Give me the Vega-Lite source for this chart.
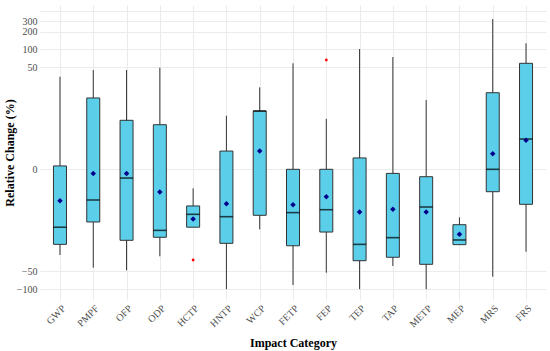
{
  "$schema": "https://vega.github.io/schema/vega-lite/v6.json",
  "width": 506,
  "height": 295,
  "autosize": {"type": "none"},
  "padding": {"left": 40, "top": 5, "right": 4, "bottom": 51},
  "background": "white",
  "config": {
    "view": {"stroke": null},
    "font": "Liberation Serif",
    "axis": {
      "labelFont": "Liberation Serif",
      "titleFont": "Liberation Serif",
      "labelColor": "#4D4D4D",
      "labelFontSize": 10,
      "titleFontSize": 12,
      "titleFontWeight": "bold",
      "titleColor": "#000000",
      "domain": false,
      "ticks": false,
      "gridColor": "#EBEBEB",
      "gridWidth": 1
    }
  },
  "datasets": {
    "boxes": [
      {"cat": "GWP", "lower": -26.1, "q1": -17.0, "median": -8.3, "q3": 0.14, "upper": 34.4, "mean": -2.35},
      {"cat": "PMPF", "lower": -43.2, "q1": -6.6, "median": -2.26, "q3": 14.6, "upper": 44.8, "mean": -0.18},
      {"cat": "OFP", "lower": -47.9, "q1": -14.4, "median": -0.4, "q3": 5.6, "upper": 44.8, "mean": -0.18},
      {"cat": "ODP", "lower": -27.5, "q1": -12.7, "median": -9.5, "q3": 4.57, "upper": 49, "mean": -1.4},
      {"cat": "HCTP", "lower": -8.3, "q1": -8.3, "median": -4.66, "q3": -3.1, "upper": -1.08, "mean": -5.78},
      {"cat": "HNTP", "lower": -100, "q1": -16.3, "median": -5.2, "q3": 1.02, "upper": 6.88, "mean": -2.76},
      {"cat": "WCP", "lower": -9.1, "q1": -4.88, "median": 8.44, "q3": 8.44, "upper": 22.5, "mean": 1.02},
      {"cat": "FETP", "lower": -85, "q1": -18, "median": -4.3, "q3": 0, "upper": 58.3, "mean": -2.9},
      {"cat": "FEP", "lower": -52.6, "q1": -10.2, "median": -3.74, "q3": 0, "upper": 6.0, "mean": -1.87},
      {"cat": "TEP", "lower": -100, "q1": -32.8, "median": -17.0, "q3": 0.55, "upper": 101.7, "mean": -4.18},
      {"cat": "TAP", "lower": -40.4, "q1": -28.6, "median": -12.9, "q3": -0.17, "upper": 74.5, "mean": -3.67},
      {"cat": "METP", "lower": -100, "q1": -37.8, "median": -3.27, "q3": -0.33, "upper": 13.4, "mean": -4.18},
      {"cat": "MEP", "lower": -17.2, "q1": -17.2, "median": -14.2, "q3": -7.44, "upper": -5.35, "mean": -11.2},
      {"cat": "MRS", "lower": -61.5, "q1": -1.37, "median": 0, "q3": 18.1, "upper": 325, "mean": 0.82},
      {"cat": "FRS", "lower": -22.9, "q1": -2.85, "median": 2.21, "q3": 58.3, "upper": 127, "mean": 2.06}
    ],
    "outliers": [
      {"cat": "HCTP", "value": -31.9},
      {"cat": "FEP", "value": 66.3}
    ]
  },
  "data": {"name": "boxes"},
  "encoding": {
    "x": {
      "field": "cat",
      "type": "nominal",
      "sort": null,
      "scale": {"type": "point", "padding": 0.6},
      "axis": {
        "title": "Impact Category",
        "labelAngle": -45,
        "labelAlign": "right",
        "labelBaseline": "top",
        "labelPadding": 3,
        "titlePadding": 9,
        "grid": true
      }
    }
  },
  "layer": [
    {
      "mark": {"type": "rule", "color": "#333333", "strokeWidth": 1},
      "encoding": {
        "y": {
          "field": "lower",
          "type": "quantitative",
          "scale": {"type": "symlog", "constant": 1, "domain": [-152.4, 559], "nice": false, "zero": false},
          "axis": {
            "title": "Relative Change (%)",
            "values": [-100, -70.8, -50, -6.14, 0, 6.14, 50, 70.8, 100, 141.4, 200, 245.5, 300, 367, 449],
            "labelExpr": "indexof([-100,-50,0,50,100,200,300], datum.value) >= 0 ? datum.label : ''",
            "format": "d",
            "labelPadding": 3,
            "titlePadding": 0,
            "grid": true
          }
        },
        "y2": {"field": "upper"}
      }
    },
    {
      "mark": {"type": "bar", "size": 13, "fill": "#5BCFEA", "stroke": "#333333", "strokeWidth": 1},
      "encoding": {
        "y": {"field": "q1", "type": "quantitative"},
        "y2": {"field": "q3"}
      }
    },
    {
      "mark": {"type": "tick", "size": 13, "thickness": 1.6, "color": "#000000"},
      "encoding": {
        "y": {"field": "median", "type": "quantitative"}
      }
    },
    {
      "mark": {"type": "point", "shape": "diamond", "filled": true, "size": 30, "color": "#00008B", "opacity": 1},
      "encoding": {
        "y": {"field": "mean", "type": "quantitative"}
      }
    },
    {
      "data": {"name": "outliers"},
      "mark": {"type": "circle", "size": 8, "color": "#FF0000", "opacity": 1},
      "encoding": {
        "x": {"field": "cat", "type": "nominal", "sort": null},
        "y": {"field": "value", "type": "quantitative"}
      }
    }
  ]
}
